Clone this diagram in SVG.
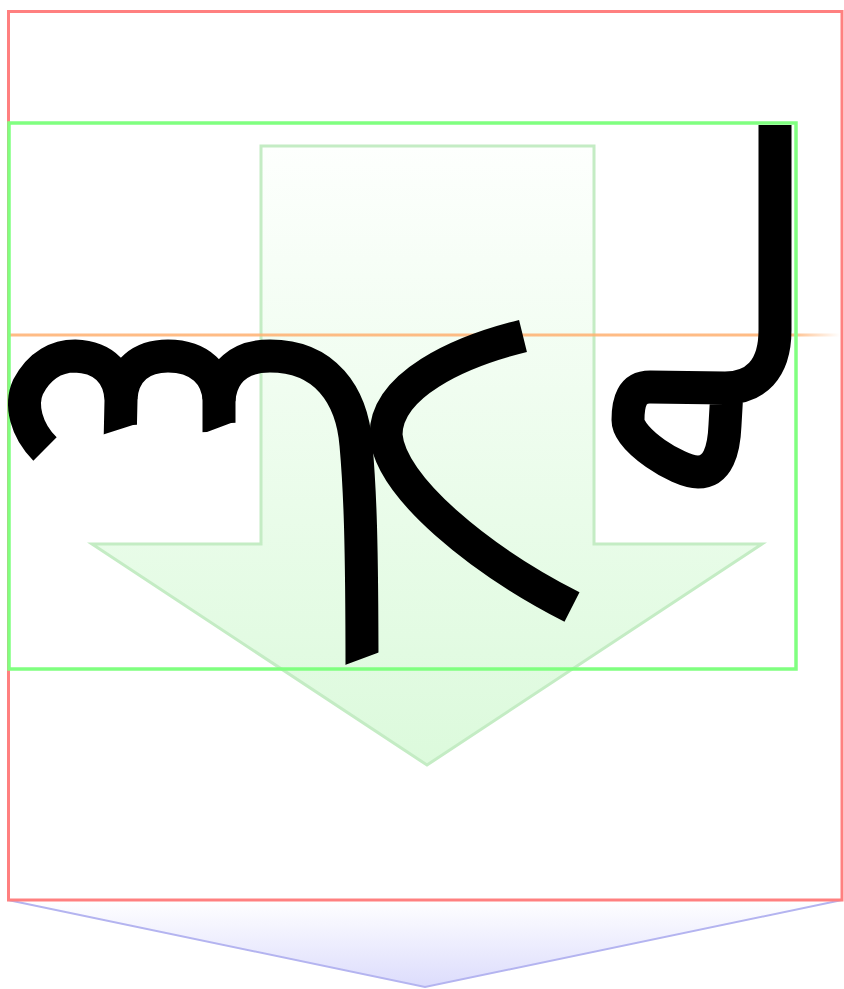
<svg xmlns="http://www.w3.org/2000/svg" width="844" height="989" viewBox="0 0 844 989">
<defs>
<linearGradient id="gGreen" x1="0" y1="146" x2="0" y2="765" gradientUnits="userSpaceOnUse">
<stop offset="0" stop-color="#fdfffd"/>
<stop offset="1" stop-color="#dcfadc"/>
</linearGradient>
<linearGradient id="gBlue" x1="0" y1="900" x2="0" y2="987" gradientUnits="userSpaceOnUse">
<stop offset="0" stop-color="#ffffff"/>
<stop offset="1" stop-color="#dcdcfc"/>
</linearGradient>
<linearGradient id="gBase" x1="10" y1="0" x2="840" y2="0" gradientUnits="userSpaceOnUse">
<stop offset="0" stop-color="#ffb070" stop-opacity="0.85"/>
<stop offset="0.94" stop-color="#ffb070" stop-opacity="0.85"/>
<stop offset="1" stop-color="#ffb070" stop-opacity="0"/>
</linearGradient>
<clipPath id="cA"><polygon points="0,0 300,0 300,415 133,425 108,433 80,442 80,500 0,500"/></clipPath>
<clipPath id="cB"><polygon points="0,0 400,0 400,415 231,423 207,432 0,440"/></clipPath>
<clipPath id="cC"><polygon points="0,0 844,0 844,640 380,652 345,665 0,680"/></clipPath>
<style>
.ink{fill:none;stroke:#000;stroke-width:33;stroke-linejoin:round;stroke-linecap:butt}
</style>
</defs>
<rect width="844" height="989" fill="#fff"/>
<g id="advance-arrow">
<polygon points="8,900 842,900 425,987" fill="url(#gBlue)" stroke="#b4b4f0" stroke-width="2"/>
</g>
<g id="glyph-box-outer">
<rect x="8.5" y="11.5" width="833.5" height="888.5" fill="none" stroke="#ff8080" stroke-width="3"/>
</g>
<g id="down-arrow">
<polygon points="261,146 594,146 594,544 762,544 427,765 92,544 261,544" fill="url(#gGreen)" stroke="#c4ecc4" stroke-width="3"/>
</g>
<g id="baseline">
<line x1="10" y1="335" x2="840" y2="335" stroke="url(#gBase)" stroke-width="3"/>
</g>
<g id="bbox">
<rect x="9" y="123" width="787" height="546" fill="none" stroke="#80ff80" stroke-width="3.5"/>
</g>
<g id="glyph">
<path class="ink" clip-path="url(#cA)" d="M45,449 C 26,430 20,405 28,387 C 40,364 58,356 75,356 C 105,357 120,375 121,400 L120,445"/>
<path class="ink" clip-path="url(#cB)" d="M121,398 C 123,370 142,356 168,356 C 200,356 218,375 219,400 L219,445"/>
<path class="ink" clip-path="url(#cC)" d="M219,400 C 221,372 240,356 270,356 C 325,356 352,395 356,445 C 360,490 362,540 362,675"/>
<path class="ink" d="M523,336 C 458,352 386,385 386,435 C 390,487 480,560 572,607"/>
<path class="ink" d="M775,125 L775,330 C 775,370 755,388 725,388 L650,387 C 632,387 628,402 628,420 C 628,440 678,472 698,472 C 718,472 724,450 725,425 L727,390"/>
</g>
</svg>
